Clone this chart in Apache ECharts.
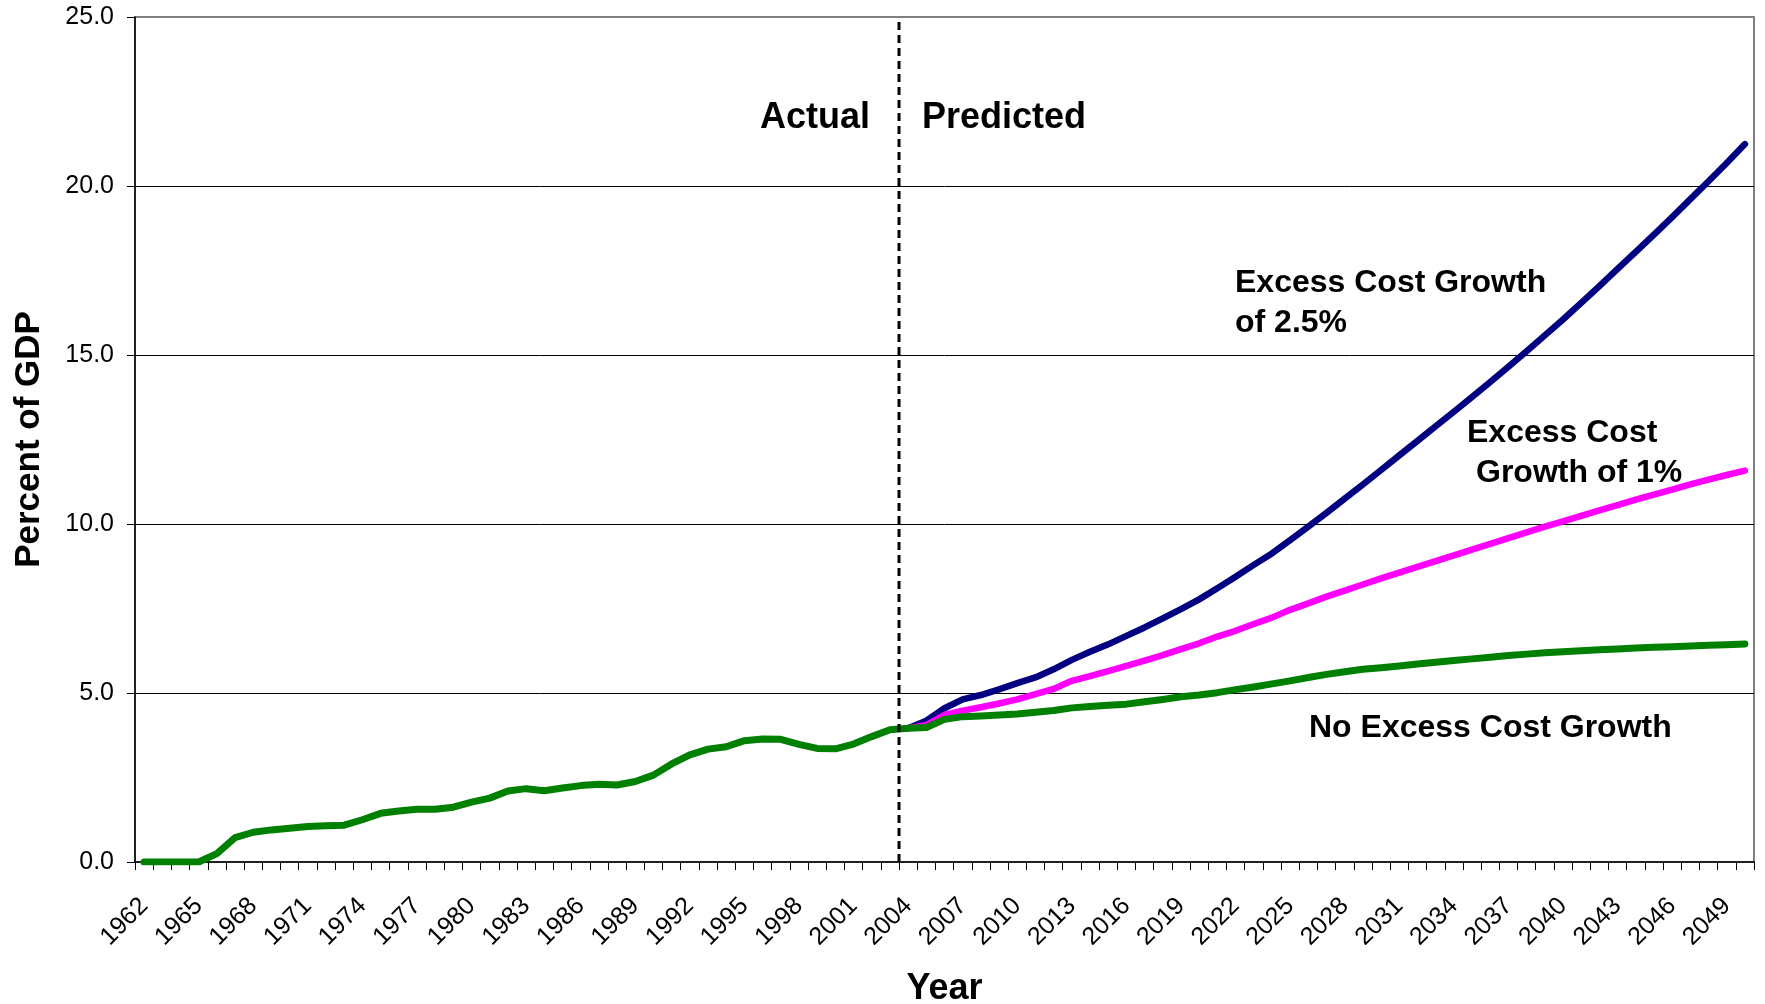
<!DOCTYPE html>
<html><head><meta charset="utf-8">
<script src="https://cdn.jsdelivr.net/npm/echarts@6/dist/echarts.min.js"></script>
<style>html,body{margin:0;padding:0;background:#fff}#c{width:1765px;height:1004px}</style>
</head><body><div id="c"></div>
<script>
const years = [
 '1962','1963','1964','1965','1966','1967','1968','1969','1970','1971',
 '1972','1973','1974','1975','1976','1977','1978','1979','1980','1981',
 '1982','1983','1984','1985','1986','1987','1988','1989','1990','1991',
 '1992','1993','1994','1995','1996','1997','1998','1999','2000','2001',
 '2002','2003','2004','2005','2006','2007','2008','2009','2010','2011',
 '2012','2013','2014','2015','2016','2017','2018','2019','2020','2021',
 '2022','2023','2024','2025','2026','2027','2028','2029','2030','2031',
 '2032','2033','2034','2035','2036','2037','2038','2039','2040','2041',
 '2042','2043','2044','2045','2046','2047','2048','2049','2050'
];
// No Excess Cost Growth (actual 1962-2004, projection afterwards)
const noExcess = [
 0.00,0.00,0.00,0.00,0.25,0.72,0.88,0.95,1.00,1.05,
 1.07,1.09,1.25,1.44,1.51,1.56,1.56,1.62,1.77,1.89,
 2.10,2.17,2.11,2.19,2.26,2.30,2.28,2.38,2.57,2.90,
 3.17,3.34,3.41,3.59,3.64,3.63,3.48,3.36,3.35,3.49,
 3.71,3.91,3.96,3.98,4.22,4.30,4.32,4.35,4.38,4.43,
 4.48,4.56,4.60,4.64,4.67,4.74,4.81,4.89,4.94,5.01,
 5.10,5.18,5.27,5.36,5.46,5.55,5.63,5.70,5.75,5.80,
 5.86,5.91,5.96,6.01,6.06,6.11,6.15,6.19,6.22,6.25,
 6.28,6.30,6.33,6.35,6.37,6.39,6.41,6.43,6.45
];
// Excess Cost Growth of 1% (2004-2050)
const excess1 = [
 3.96,4.05,4.35,4.48,4.58,4.69,4.81,4.97,
 5.12,5.36,5.50,5.65,5.80,5.96,6.12,6.30,6.47,6.67,
 6.84,7.04,7.23,7.46,7.65,7.85,8.03,8.21,8.39,8.56,
 8.73,8.90,9.07,9.24,9.41,9.58,9.75,9.92,10.08,10.24,
 10.40,10.56,10.72,10.87,11.02,11.17,11.31,11.45,11.58
];
// Excess Cost Growth of 2.5% (2004-2050)
const excess25 = [
 3.96,4.18,4.55,4.81,4.94,5.11,5.29,5.46,
 5.70,5.98,6.22,6.44,6.69,6.94,7.21,7.48,7.77,8.10,
 8.44,8.79,9.13,9.52,9.92,10.33,10.75,11.17,11.60,12.03,
 12.46,12.89,13.32,13.76,14.20,14.65,15.11,15.58,16.05,16.54,
 17.04,17.55,18.05,18.56,19.08,19.61,20.14,20.68,21.24
];
const projStartYear = '2004';
const yMin = 0, yMax = 25, yStep = 5;

const startIdx = years.indexOf(projStartYear);
const pad = arr => new Array(startIdx).fill(null).concat(arr);

const FONT = "'Liberation Sans', Arial, sans-serif";
const chart = echarts.init(document.getElementById('c'), null, {renderer:'canvas'});
chart.setOption({
  backgroundColor: '#fff',
  animation: false,
  grid: {left:135, right:11, top:17, bottom:142, show:true, borderColor:'#808080', borderWidth:2, outerBoundsMode:'none', containLabel:false},
  xAxis: [{
    type:'category', data: years, boundaryGap:true,
    axisLine:{show:true, lineStyle:{color:'#000', width:1.5}},
    axisTick:{show:true, interval:0, length:8, lineStyle:{color:'#000', width:1}},
    axisLabel:{interval:2, rotate:45, margin:40, fontFamily:FONT, fontSize:25, color:'#000'},
    splitLine:{show:false},
    name:'Year', nameLocation:'middle', nameGap:109,
    nameTextStyle:{fontFamily:FONT, fontSize:36, fontWeight:'bold', color:'#000'}
  },{
    type:'value', min:0, max:years.length, show:false
  }],
  yAxis: {
    type:'value', min:yMin, max:yMax, interval:yStep,
    axisLine:{show:true, lineStyle:{color:'#000', width:1.5}},
    axisTick:{show:true, length:8, lineStyle:{color:'#000'}},
    axisLabel:{formatter: v => v.toFixed(1), margin:21, fontFamily:FONT, fontSize:25, color:'#000'},
    splitLine:{show:true, showMinLine:false, showMaxLine:false, lineStyle:{color:'#000', width:1}},
    name:'Percent of GDP', nameLocation:'middle', nameGap:88, nameRotate:90,
    nameTextStyle:{fontFamily:FONT, fontSize:35, fontWeight:'bold', color:'#000'}
  },
  series: [
    {name:'Excess Cost Growth of 2.5%', type:'line', data: pad(excess25), symbol:'none', connectNulls:false,
     lineStyle:{color:'#000080', width:6.5, cap:'round', join:'round'}, z:2},
    {name:'Excess Cost Growth of 1%', type:'line', data: pad(excess1), symbol:'none',
     lineStyle:{color:'#FF00FF', width:6.5, cap:'round', join:'round'}, z:3},
    {name:'No Excess Cost Growth', type:'line', data: noExcess, symbol:'none',
     lineStyle:{color:'#008000', width:7, cap:'round', join:'round'}, z:4},
    {name:'divider', type:'line', xAxisIndex:1, data:[[startIdx, yMin],[startIdx, yMax]], symbol:'none',
     lineStyle:{color:'#000', width:3, type:[8,5]}, z:5, silent:true}
  ],
  graphic: [
    {type:'text', x:870, y:118, style:{text:'Actual', font:`bold 36px ${FONT}`, fill:'#000', align:'right', verticalAlign:'middle'}},
    {type:'text', x:922, y:118, style:{text:'Predicted', font:`bold 36px ${FONT}`, fill:'#000', align:'left', verticalAlign:'middle'}},
    {type:'text', x:1235, y:283, style:{text:'Excess Cost Growth', font:`bold 32px ${FONT}`, fill:'#000', align:'left', verticalAlign:'middle'}},
    {type:'text', x:1235, y:323, style:{text:'of 2.5%', font:`bold 32px ${FONT}`, fill:'#000', align:'left', verticalAlign:'middle'}},
    {type:'text', x:1467, y:433, style:{text:'Excess Cost', font:`bold 32px ${FONT}`, fill:'#000', align:'left', verticalAlign:'middle'}},
    {type:'text', x:1476, y:473, style:{text:'Growth of 1%', font:`bold 32px ${FONT}`, fill:'#000', align:'left', verticalAlign:'middle'}},
    {type:'text', x:1309, y:728, style:{text:'No Excess Cost Growth', font:`bold 32px ${FONT}`, fill:'#000', align:'left', verticalAlign:'middle'}}
  ]
});
</script></body></html>
